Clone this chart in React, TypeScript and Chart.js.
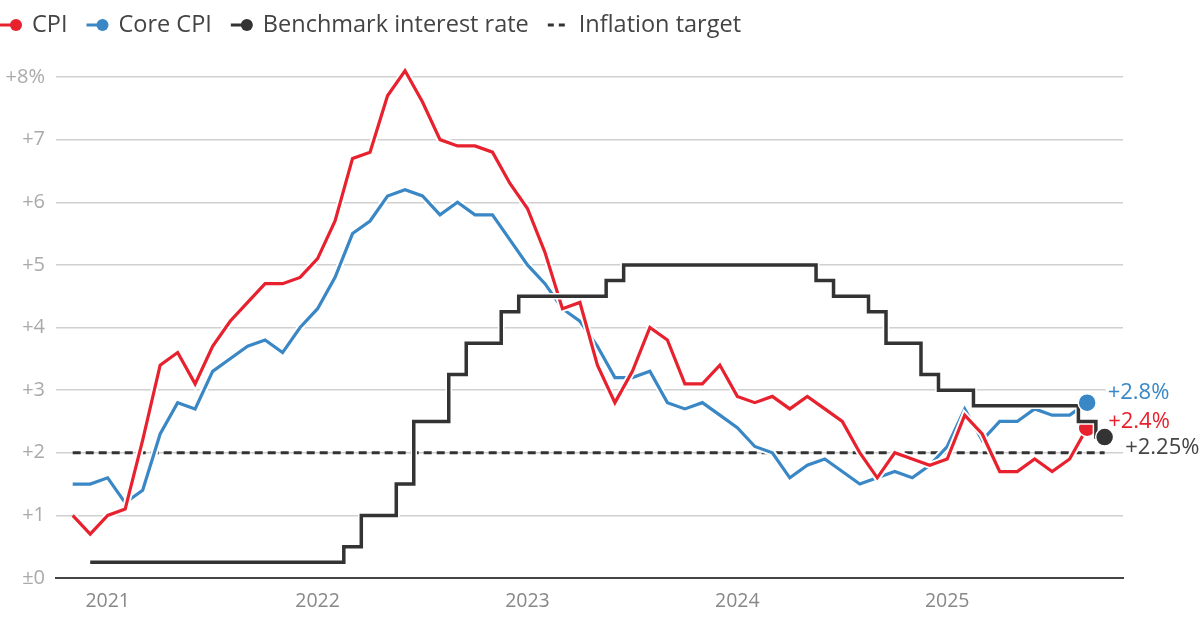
import React, { useEffect, useRef } from 'react';
import { Chart, registerables } from 'chart.js';

Chart.register(...registerables);

// ---------- data (monthly, starting Nov 2020) ----------
const START_YEAR = 2020;
const START_MONTH = 11;
const yearLabels = ['2021', '2022', '2023', '2024', '2025'];
const yTickValues = [0, 1, 2, 3, 4, 5, 6, 7, 8];
const yTickLabels = ['±0', '+1', '+2', '+3', '+4', '+5', '+6', '+7', '+8%'];

const cpi = [
  1.0, 0.7,
  1.0, 1.1, 2.2, 3.4, 3.6, 3.1, 3.7, 4.1, 4.4, 4.7, 4.7, 4.8,
  5.1, 5.7, 6.7, 6.8, 7.7, 8.1, 7.6, 7.0, 6.9, 6.9, 6.8, 6.3,
  5.9, 5.2, 4.3, 4.4, 3.4, 2.8, 3.3, 4.0, 3.8, 3.1, 3.1, 3.4,
  2.9, 2.8, 2.9, 2.7, 2.9, 2.7, 2.5, 2.0, 1.6, 2.0, 1.9, 1.8,
  1.9, 2.6, 2.3, 1.7, 1.7, 1.9, 1.7, 1.9, 2.4,
];

const coreCpi = [
  1.5, 1.5,
  1.6, 1.2, 1.4, 2.3, 2.8, 2.7, 3.3, 3.5, 3.7, 3.8, 3.6, 4.0,
  4.3, 4.8, 5.5, 5.7, 6.1, 6.2, 6.1, 5.8, 6.0, 5.8, 5.8, 5.4,
  5.0, 4.7, 4.3, 4.1, 3.7, 3.2, 3.2, 3.3, 2.8, 2.7, 2.8, 2.6,
  2.4, 2.1, 2.0, 1.6, 1.8, 1.9, 1.7, 1.5, 1.6, 1.7, 1.6, 1.8,
  2.1, 2.7, 2.2, 2.5, 2.5, 2.7, 2.6, 2.6, 2.8,
];

const policyRate: (number | null)[] = [
  null, 0.25,
  0.25, 0.25, 0.25, 0.25, 0.25, 0.25, 0.25, 0.25, 0.25, 0.25, 0.25, 0.25,
  0.25, 0.25, 0.5, 1.0, 1.0, 1.5, 2.5, 2.5, 3.25, 3.75, 3.75, 4.25,
  4.5, 4.5, 4.5, 4.5, 4.5, 4.75, 5.0, 5.0, 5.0, 5.0, 5.0, 5.0,
  5.0, 5.0, 5.0, 5.0, 5.0, 4.75, 4.5, 4.5, 4.25, 3.75, 3.75, 3.25,
  3.0, 3.0, 2.75, 2.75, 2.75, 2.75, 2.75, 2.75, 2.5, 2.25,
];

const inflationTarget = 2;

const seriesNames = ['CPI', 'Core CPI', 'Benchmark interest rate', 'Inflation target'];
const endLabels = ['+2.4%', '+2.8%', '+2.25%'];

// ---------- styles ----------
const RED = '#e8212e';
const BLUE = '#3a87c6';
const DARK = '#333333';
const FONT = '"Open Sans", sans-serif';

const toXY = (arr: (number | null)[]) => arr.map((v, i) => ({ x: i, y: v }));
const lastPoint = (arr: (number | null)[]) => {
  const i = arr.length - 1;
  return [{ x: i, y: arr[i] }];
};

const yearTickIndex = yearLabels.map((y) => (Number(y) - START_YEAR) * 12 + (1 - START_MONTH));

const legendPlugin = {
  id: 'customLegend',
  afterDraw(chart: any) {
    const ctx = chart.ctx as CanvasRenderingContext2D;
    ctx.save();
    ctx.font = `23.5px ${FONT}`;
    ctx.textBaseline = 'middle';
    const y = 25;
    const items = [
      { label: seriesNames[0], color: RED, dashed: false },
      { label: seriesNames[1], color: BLUE, dashed: false },
      { label: seriesNames[2], color: DARK, dashed: false },
      { label: seriesNames[3], color: DARK, dashed: true },
    ];
    let x = 0;
    items.forEach((it) => {
      ctx.strokeStyle = it.color;
      ctx.fillStyle = it.color;
      ctx.lineWidth = 3;
      let textX;
      if (it.dashed) {
        ctx.setLineDash([6, 5]);
        ctx.beginPath();
        ctx.moveTo(x, y);
        ctx.lineTo(x + 17, y);
        ctx.stroke();
        ctx.setLineDash([]);
        textX = x + 31;
      } else {
        ctx.beginPath();
        ctx.moveTo(x, y);
        ctx.lineTo(x + 16, y);
        ctx.stroke();
        ctx.beginPath();
        ctx.arc(x + 16, y, 6, 0, Math.PI * 2);
        ctx.fill();
        textX = x + 32;
      }
      ctx.fillStyle = '#444444';
      ctx.fillText(it.label, textX, y);
      x = textX + ctx.measureText(it.label).width + 19;
    });
    ctx.restore();
  },
};

const labelPos = (chart: any, idx: number, ds: any) => {
  const meta = chart.getDatasetMeta(idx);
  const pt = meta.data[meta.data.length - 1];
  if (!pt) return null;
  return { x: pt.x + ds.endLabel.dx, y: pt.y + ds.endLabel.dy };
};

const endLabelPlugin = {
  id: 'endLabels',
  beforeDatasetsDraw(chart: any) {
    const ctx = chart.ctx as CanvasRenderingContext2D;
    ctx.save();
    ctx.font = `22px ${FONT}`;
    chart.data.datasets.forEach((ds: any, idx: number) => {
      if (!ds.endLabel) return;
      const p = labelPos(chart, idx, ds);
      if (!p) return;
      const w = ctx.measureText(ds.endLabel.text).width;
      ctx.fillStyle = '#ffffff';
      ctx.fillRect(p.x - 2, p.y - 12, w + 4, 24);
    });
    ctx.restore();
  },
  afterDatasetsDraw(chart: any) {
    const ctx = chart.ctx as CanvasRenderingContext2D;
    ctx.save();
    ctx.font = `22px ${FONT}`;
    ctx.textBaseline = 'middle';
    chart.data.datasets.forEach((ds: any, idx: number) => {
      if (!ds.endLabel) return;
      const p = labelPos(chart, idx, ds);
      if (!p) return;
      ctx.fillStyle = ds.endLabel.color;
      ctx.fillText(ds.endLabel.text, p.x, p.y);
    });
    ctx.restore();
  },
};

export default function App() {
  const canvasRef = useRef<HTMLCanvasElement | null>(null);

  useEffect(() => {
    if (!canvasRef.current) return;
    Chart.defaults.font.family = FONT;

    const line = (data: any, color: string, width: number, order: number, extra: any = {}) => ({
      type: 'line',
      data,
      borderColor: color,
      backgroundColor: color,
      borderWidth: width,
      pointRadius: 0,
      pointHoverRadius: 0,
      fill: false,
      tension: 0,
      clip: false,
      order,
      borderJoinStyle: 'miter',
      ...extra,
    });
    const dot = (data: any, color: string, order: number, extra: any = {}) => ({
      type: 'line',
      data,
      showLine: false,
      pointRadius: 9,
      pointHoverRadius: 9,
      pointBackgroundColor: color,
      pointBorderColor: '#ffffff',
      pointBorderWidth: 1.5,
      clip: false,
      order,
      ...extra,
    });

    // lower order = drawn on top
    const chart = new Chart(canvasRef.current, {
      type: 'line',
      data: {
        datasets: [
          dot(lastPoint(policyRate), DARK, 0, {
            label: seriesNames[2] + ' end',
            endLabel: { text: endLabels[2], color: '#444444', dx: 20.5, dy: 11 },
          }),
          dot(lastPoint(coreCpi), BLUE, 1, {
            label: seriesNames[1] + ' end',
            endLabel: { text: endLabels[1], color: BLUE, dx: 20.5, dy: -10 },
          }),
          line(toXY(policyRate), DARK, 3.5, 2, { label: seriesNames[2], stepped: 'middle' }),
          line(toXY(policyRate), '#ffffff', 6.5, 3, { label: 'halo', stepped: 'middle' }),
          dot(lastPoint(cpi), RED, 4, {
            label: seriesNames[0] + ' end',
            endLabel: { text: endLabels[0], color: RED, dx: 21, dy: -6 },
          }),
          line(toXY(cpi), RED, 3.2, 5, { label: seriesNames[0] }),
          line(toXY(cpi), '#ffffff', 7, 6, { label: 'halo' }),
          line(toXY(coreCpi), BLUE, 3.2, 7, { label: seriesNames[1] }),
          line(toXY(coreCpi), '#ffffff', 7, 8, { label: 'halo' }),
          line(
            policyRate.map((_, i) => ({ x: i, y: inflationTarget })),
            DARK,
            3,
            9,
            { label: seriesNames[3], borderDash: [8, 5] }
          ),
        ] as any,
      },
      options: {
        animation: false,
        responsive: true,
        maintainAspectRatio: false,
        events: [],
        layout: { padding: { top: 77, right: 77, left: 0, bottom: 0 } },
        plugins: {
          legend: { display: false },
          tooltip: { enabled: false },
        },
        scales: {
          x: {
            type: 'linear',
            min: -0.955,
            max: 60.05,
            grid: { display: false, drawTicks: false },
            border: { display: true, color: '#444444', width: 2 },
            afterBuildTicks: (scale: any) => {
              scale.ticks = yearTickIndex.map((v) => ({ value: v }));
            },
            afterFit: (scale: any) => {
              scale.height = 46;
            },
            ticks: {
              autoSkip: false,
              maxRotation: 0,
              padding: 12,
              color: '#888888',
              font: { size: 19.5, family: FONT },
              callback: (v: any) => {
                const k = yearTickIndex.indexOf(Number(v));
                return k >= 0 ? yearLabels[k] : '';
              },
            },
          },
          y: {
            type: 'linear',
            min: 0,
            max: 8,
            border: { display: false },
            grid: {
              drawTicks: false,
              lineWidth: 1.5,
              color: (c: any) => (c.tick && c.tick.value === 0 ? 'rgba(0,0,0,0)' : '#d0d0d0'),
            },
            afterFit: (scale: any) => {
              scale.width = 56;
            },
            ticks: {
              stepSize: 1,
              padding: 11,
              color: '#aaaaaa',
              font: { size: 20, family: FONT },
              callback: (v: any) => {
                const k = yTickValues.indexOf(Number(v));
                return k >= 0 ? yTickLabels[k] : '';
              },
            },
          },
        },
      } as any,
      plugins: [legendPlugin, endLabelPlugin],
    });

    return () => chart.destroy();
  }, []);

  return (
    <div style={{ position: 'fixed', left: 0, top: 0, width: 1200, height: 624, background: '#fff' }}>
      <canvas ref={canvasRef} />
    </div>
  );
}
